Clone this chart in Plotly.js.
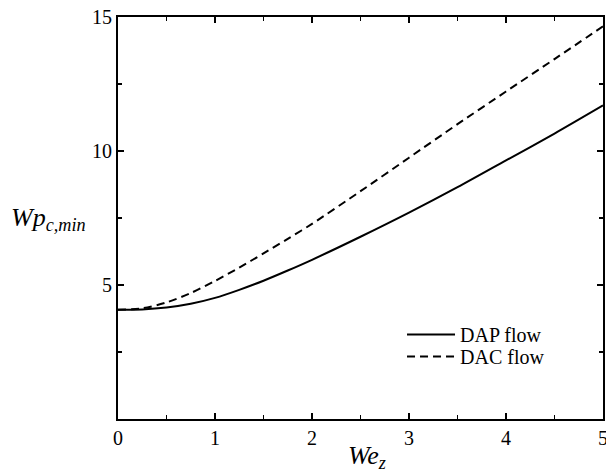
<!DOCTYPE html>
<html>
<head>
<meta charset="utf-8">
<script src="https://cdn.plot.ly/plotly-3.0.1.min.js"></script>
<style>html,body{margin:0;padding:0;background:#fff;}#chart{width:606px;height:473px;}</style>
</head>
<body>
<div id="chart"></div>
<script>
// Data
var weZ = [0, 0.25, 0.5, 0.75, 1, 1.25, 1.5, 1.75, 2, 2.5, 3, 3.5, 4, 4.5, 5];
var dapFlow = [4.08, 4.09, 4.16, 4.3, 4.52, 4.82, 5.16, 5.54, 5.94, 6.8, 7.7, 8.65, 9.65, 10.65, 11.7];
var dacFlow = [4.08, 4.13, 4.35, 4.7, 5.15, 5.65, 6.18, 6.72, 7.28, 8.5, 9.75, 11.0, 12.22, 13.43, 14.65];
var seriesNames = ["DAP flow", "DAC flow"];
var xTickVals = [0, 1, 2, 3, 4, 5];
var xTickText = ["0", "1", "2", "3", "4", "5"];
var yTickVals = [0, 5, 10, 15];
var yTickText = ["", "5", "10", "15"];

var serif = "Liberation Serif";

var traces = [
  {x: weZ, y: dapFlow, name: seriesNames[0], mode: "lines", type: "scatter", legend: "legend",
   line: {color: "#000", width: 2, shape: "spline", smoothing: 0.8}},
  {x: weZ, y: dacFlow, name: seriesNames[1], mode: "lines", type: "scatter", legend: "legend2",
   line: {color: "#000", width: 2, dash: "8px,5px", shape: "spline", smoothing: 0.8}}
];

function axisBase() {
  return {
    showgrid: false, zeroline: false, showline: true, linecolor: "#000", linewidth: 2,
    mirror: "ticks", ticks: "inside", ticklen: 6, tickwidth: 1.5, tickcolor: "#000",
    tickfont: {family: serif, size: 20, color: "#000"},
    tickmode: "array", ticklabeloverflow: "allow"
  };
}

var xaxis = axisBase();
xaxis.range = [0, 5];
xaxis.tickvals = xTickVals;
xaxis.ticktext = xTickText;
xaxis.minor = {dtick: 0.5, tick0: 0, ticks: "inside", ticklen: 4, tickwidth: 1.5, tickcolor: "#000"};

var yaxis = axisBase();
yaxis.range = [0, 15];
yaxis.tickvals = yTickVals;
yaxis.ticktext = yTickText;
yaxis.minor = {dtick: 2.5, tick0: 0, ticks: "inside", ticklen: 4, tickwidth: 1.5, tickcolor: "#000"};

function legendAt(yPos) {
  return {x: 0.5856, y: yPos, xanchor: "left", yanchor: "top",
          font: {family: serif, size: 20, color: "#000"},
          bgcolor: "rgba(0,0,0,0)", itemwidth: 48, tracegroupgap: 0};
}

var layout = {
  width: 606, height: 473,
  margin: {l: 118, r: 3, t: 17, b: 54},
  paper_bgcolor: "#fff", plot_bgcolor: "#fff",
  font: {family: serif, color: "#000"},
  showlegend: true,
  legend: legendAt(0.2587),
  legend2: legendAt(0.204),
  xaxis: xaxis,
  yaxis: yaxis,
  annotations: [
    {xref: "paper", yref: "paper", x: 0.513, y: -0.095, xanchor: "center", yanchor: "middle",
     showarrow: false, text: "<i>We<sub>z</sub></i>",
     font: {family: serif, size: 26, color: "#000"}},
    {xref: "paper", yref: "paper", x: -0.2247, y: 0.4975, xanchor: "left", yanchor: "middle",
     showarrow: false, text: "<i>Wp<sub>c,min</sub></i>",
     font: {family: serif, size: 26, color: "#000"}}
  ]
};

Plotly.newPlot("chart", traces, layout, {displayModeBar: false, staticPlot: true});
</script>
</body>
</html>
